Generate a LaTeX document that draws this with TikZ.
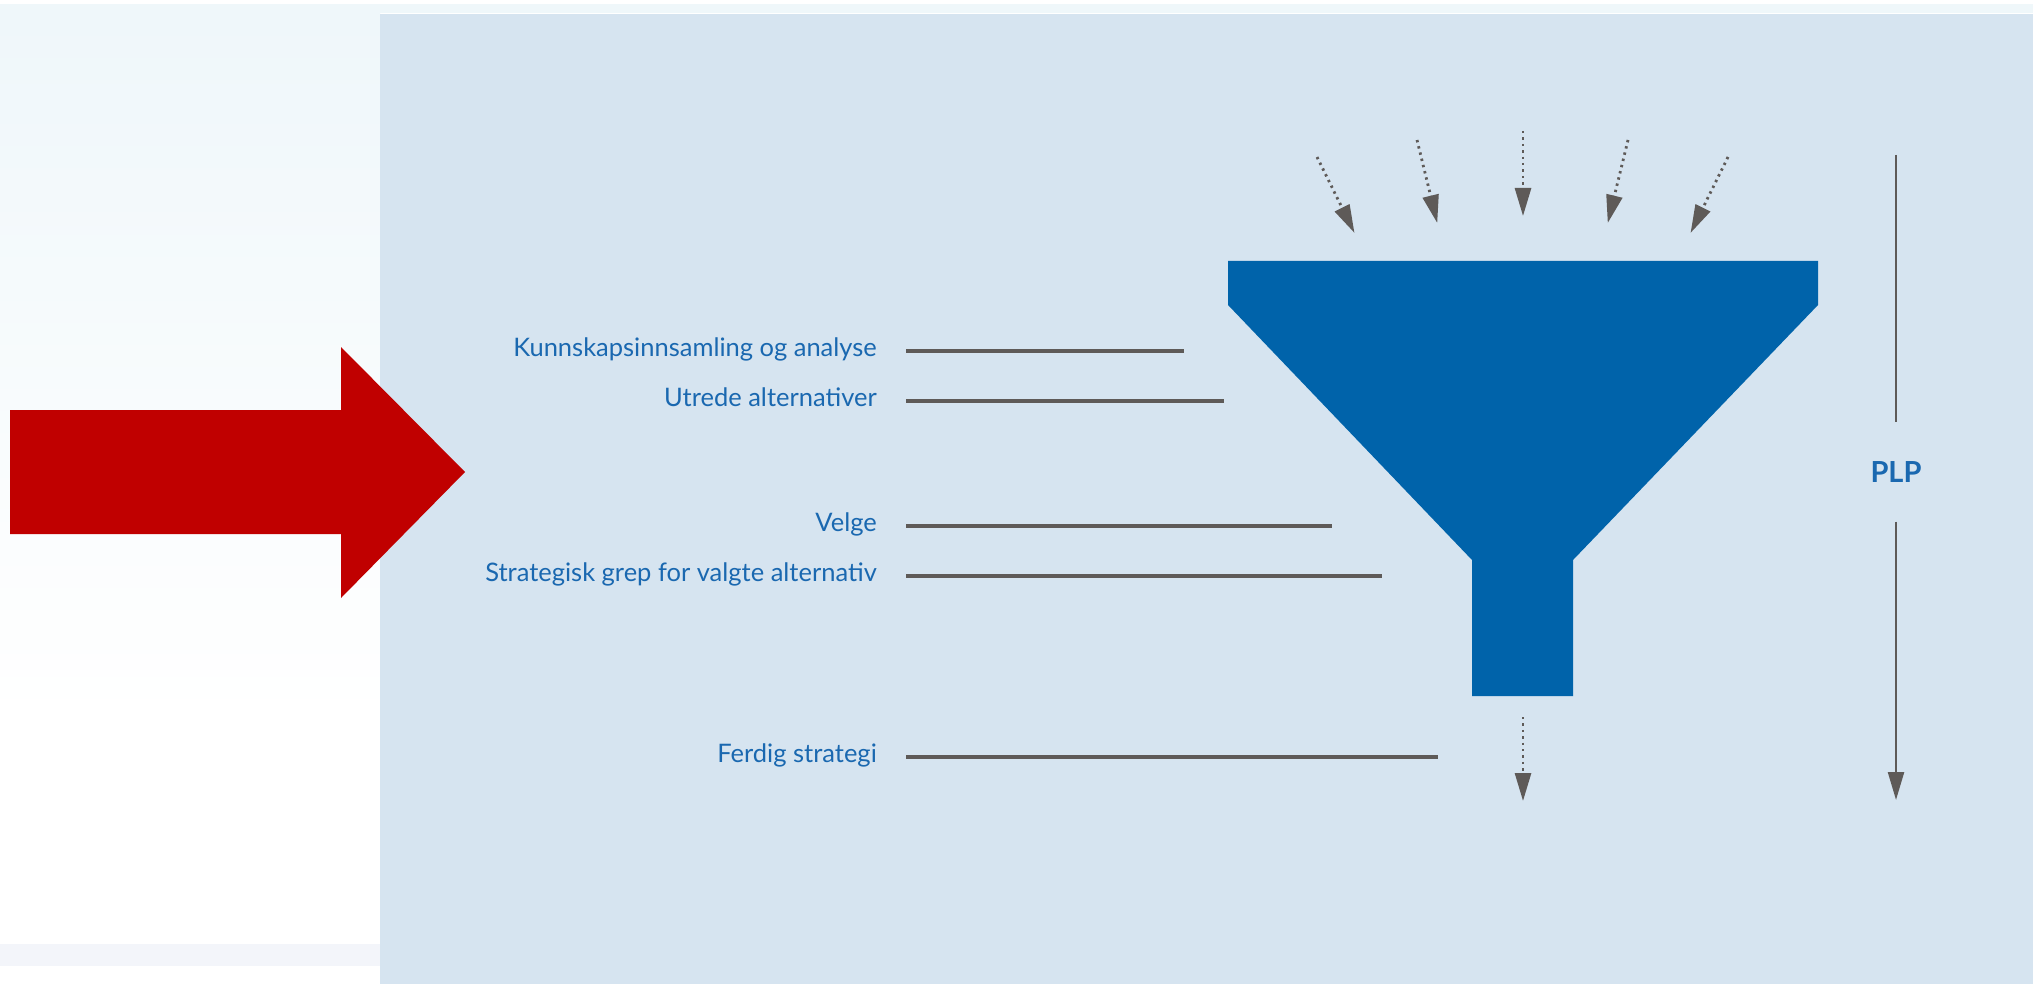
\documentclass[tikz,border=0pt]{standalone}
\usepackage{fontspec}
\setmainfont{Lato}
\usetikzlibrary{arrows.meta}
\definecolor{panelbg}{HTML}{D6E4F0}
\definecolor{toplight}{HTML}{EFF7FA}
\definecolor{striplight}{HTML}{F3F5FA}
\definecolor{funnelblue}{HTML}{0063AA}
\definecolor{labelblue}{HTML}{1A68B0}
\definecolor{arrowred}{HTML}{C00000}
\definecolor{linegray}{HTML}{5E5A58}
\tikzset{
  lbl/.style={anchor=base east, inner sep=0pt, text=labelblue, font=\fontsize{25.5}{28}\selectfont},
  leader/.style={draw=linegray, line width=3.2pt},
  dotarrow/.style={draw=linegray, line width=2.8pt, dash pattern=on 2.4pt off 4pt,
    -{Triangle[width=16pt,length=28pt,fill=linegray]}, shorten >=-1pt},
  plpline/.style={draw=linegray, line width=2.4pt},
}
\begin{document}
\begin{tikzpicture}[x=1pt,y=-1pt]
\useasboundingbox (0,0) rectangle (2033,984);
% backgrounds
\fill[white] (0,0) rectangle (2033,984);
\fill[toplight] (0,4) rectangle (2033,13);
\shade[top color=toplight, bottom color=white] (0,13) rectangle (380,720);
\fill[striplight] (0,944) rectangle (380,966);
\fill[panelbg] (380,14) rectangle (2033,984);
% red arrow
\fill[arrowred] (10,410) -- (341,410) -- (341,347) -- (465,472) -- (341,598) -- (341,534) -- (10,534) -- cycle;
% funnel
\fill[funnelblue] (1228,261) -- (1818,261) -- (1818,305) -- (1573,560) -- (1573,696)
  -- (1472,696) -- (1472,560) -- (1228,305) -- cycle;
% incoming dotted arrows
\coordinate (s1) at (1317,157); \coordinate (t1) at (1354,232);
\coordinate (s2) at (1417,140); \coordinate (t2) at (1437,222);
\coordinate (s3) at (1523,131); \coordinate (t3) at (1523,215);
\coordinate (s4) at (1628,140); \coordinate (t4) at (1608,222);
\coordinate (s5) at (1728,157); \coordinate (t5) at (1691,232);
\foreach \i in {1,...,5} \draw[dotarrow] (s\i) -- (t\i);
% outgoing dotted arrow
\coordinate (s6) at (1523,717); \coordinate (t6) at (1523,800);
\draw[dotarrow] (s6) -- (t6);
% labels
\node[lbl] (l1) at (877,356) {Kunnskapsinnsamling og analyse};
\node[lbl] (l2) at (877,406) {Utrede alternativer};
\node[lbl] (l3) at (877,531) {Velge};
\node[lbl] (l4) at (877,581) {Strategisk grep for valgte alternativ};
\node[lbl] (l5) at (877,762) {Ferdig strategi};
\coordinate (e1) at (1184,351);
\coordinate (e2) at (1224,401);
\coordinate (e3) at (1332,526);
\coordinate (e4) at (1382,576);
\coordinate (e5) at (1438,757);
\foreach \i/\y in {1/351,2/401,3/526,4/576,5/757}
  \draw[leader] (906,\y) -- (e\i);
% PLP
\node[inner sep=0pt, minimum height=99pt, text=labelblue, font=\fontsize{29}{31}\selectfont\bfseries] (plp) at (1896,472) {PLP};
\coordinate (ptop) at (1896,155);
\coordinate (pbot) at (1896,800);
\draw[plpline] (ptop) -- (plp.north);
\draw[plpline, -{Triangle[width=16pt,length=28pt,fill=linegray]}] (plp.south) -- (pbot);
\end{tikzpicture}
\end{document}
